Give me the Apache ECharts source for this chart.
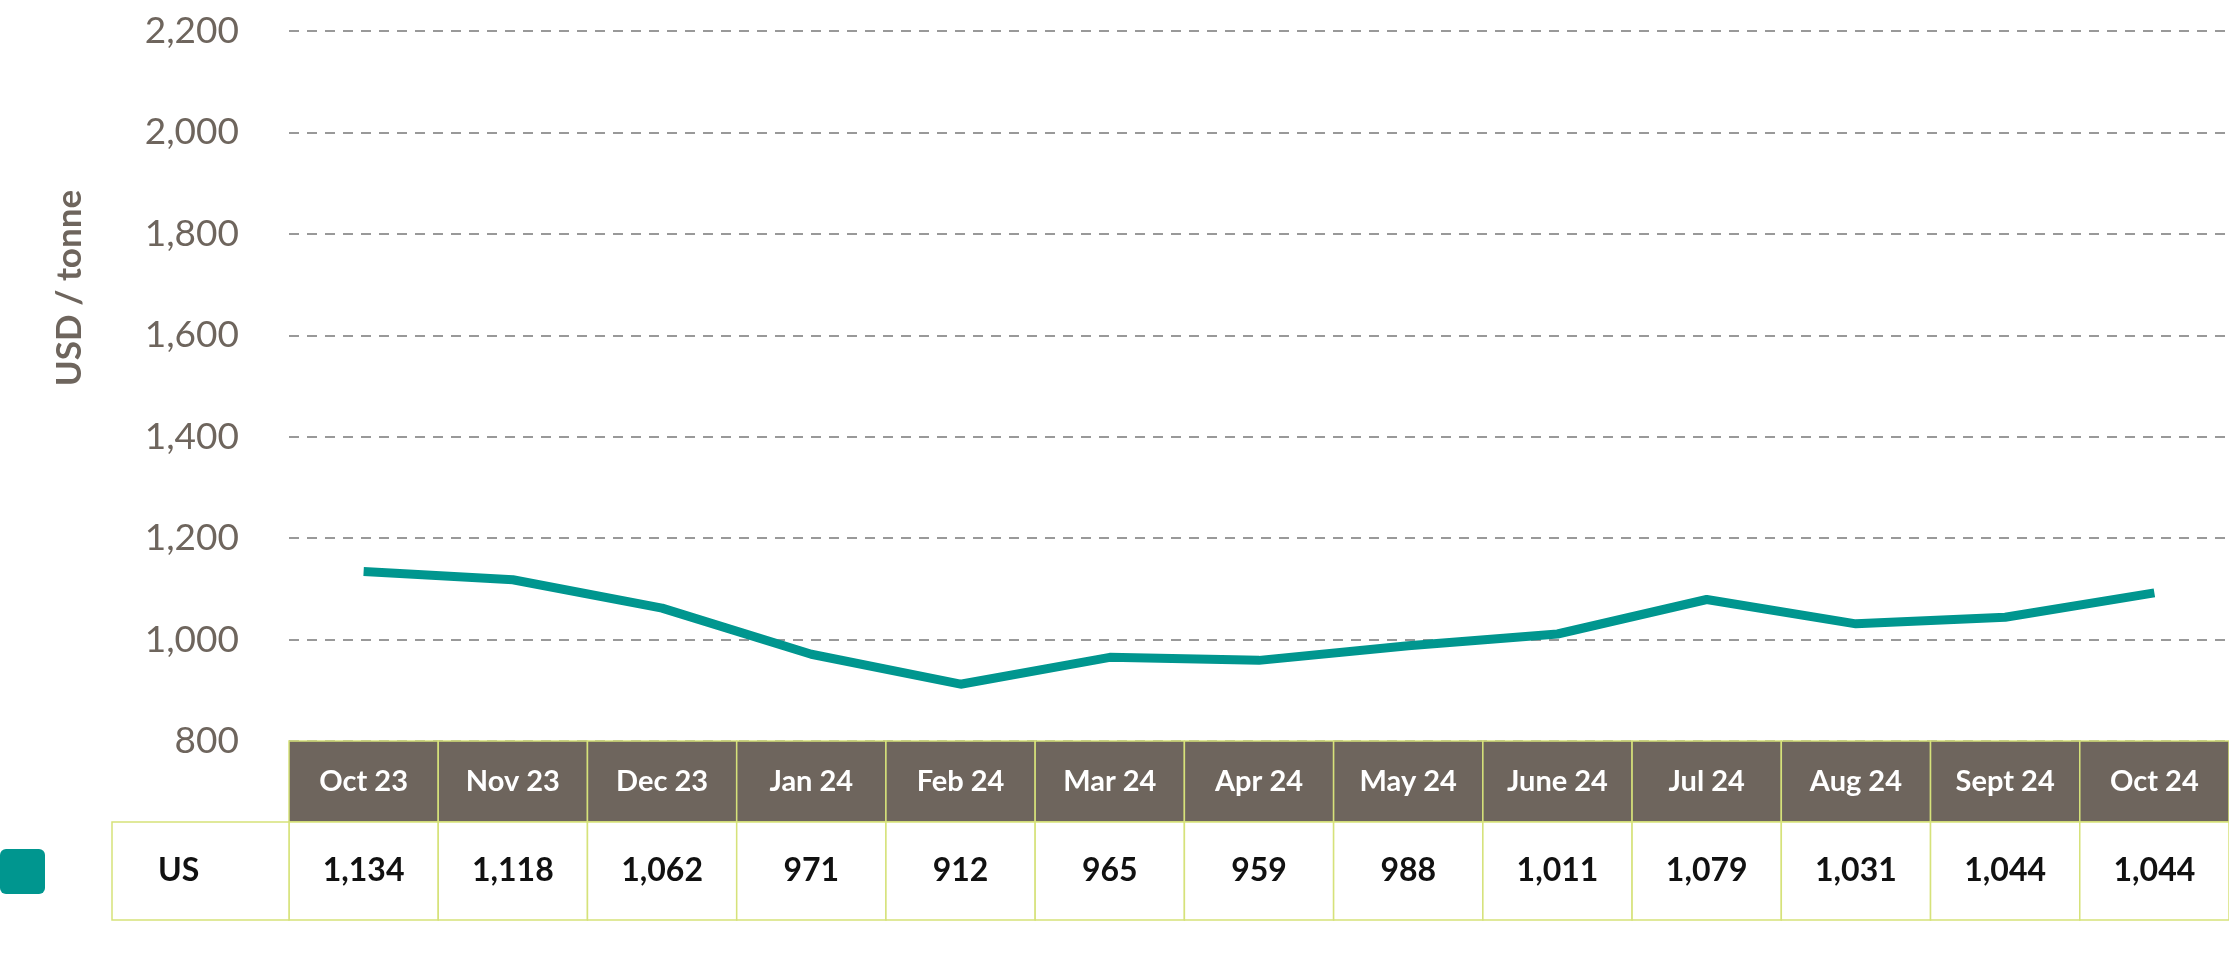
<!DOCTYPE html>
<html>
<head>
<meta charset="utf-8">
<script src="https://cdn.jsdelivr.net/npm/echarts@6/dist/echarts.min.js"></script>
<style>html,body{margin:0;padding:0;background:#fff}#chart{width:2229px;height:972px}</style>
</head>
<body>
<div id="chart"></div>
<script>
var months = ['Oct 23','Nov 23','Dec 23','Jan 24','Feb 24','Mar 24','Apr 24','May 24','June 24','Jul 24','Aug 24','Sept 24','Oct 24'];
// line as plotted
var usLine = [1134, 1118, 1062, 971, 912, 965, 959, 988, 1011, 1079, 1031, 1044, 1092];
// values printed in the table
var usTable = ['1,134','1,118','1,062','971','912','965','959','988','1,011','1,079','1,031','1,044','1,044'];
var yTicks = [800, 1000, 1200, 1400, 1600, 1800, 2000, 2200];

var brown = '#6e655d', teal = '#00968f', cellBorder = '#d6e27a';
var font = 'Lato, "Open Sans", sans-serif';

var chartDom = document.getElementById('chart');
var myChart = echarts.init(chartDom);
var option = {
  animation: false,
  grid: { left: 289, right: 0, top: 31, bottom: 231 },
  xAxis: {
    type: 'category', data: months, boundaryGap: true,
    axisLine: { show: false }, axisTick: { show: false }, axisLabel: { show: false }
  },
  yAxis: {
    type: 'value', min: yTicks[0], max: yTicks[yTicks.length - 1], interval: 200,
    axisLine: { show: false }, axisTick: { show: false },
    axisLabel: {
      color: brown, fontSize: 37, fontFamily: font, margin: 50,
      formatter: function (v) { return v.toLocaleString('en-US'); }
    },
    splitLine: { lineStyle: { color: '#999', type: [10, 8], width: 2 } }
  },
  series: [{
    type: 'line', data: usLine, symbol: 'none',
    lineStyle: { color: teal, width: 9 }
  }]
};
myChart.setOption(option);

// table under the plot, built from axis positions
var top0 = myChart.convertToPixel({ yAxisIndex: 0 }, yTicks[0]);
var cw = myChart.convertToPixel({ xAxisIndex: 0 }, months[1]) - myChart.convertToPixel({ xAxisIndex: 0 }, months[0]);
var headH = 81, rowH = 98;
var g = [];
months.forEach(function (m, i) {
  var cx = myChart.convertToPixel({ xAxisIndex: 0 }, m);
  var x = cx - cw / 2;
  g.push({ type: 'rect', shape: { x: x, y: top0, width: cw, height: headH },
    style: { fill: brown, stroke: cellBorder, lineWidth: 1.5 } });
  g.push({ type: 'text', x: cx, y: top0 + headH / 2,
    style: { text: m, fill: '#fff', font: 'bold 29px ' + font, align: 'center', verticalAlign: 'middle' } });
  g.push({ type: 'rect', shape: { x: x, y: top0 + headH, width: cw, height: rowH },
    style: { fill: '#fff', stroke: cellBorder, lineWidth: 1.5 } });
  g.push({ type: 'text', x: cx, y: top0 + headH + rowH / 2,
    style: { text: usTable[i], fill: '#111', font: 'bold 32px ' + font, align: 'center', verticalAlign: 'middle' } });
});
var leftX = 112, firstX = myChart.convertToPixel({ xAxisIndex: 0 }, months[0]) - cw / 2;
g.push({ type: 'rect', shape: { x: leftX, y: top0 + headH, width: firstX - leftX, height: rowH },
  style: { fill: '#fff', stroke: cellBorder, lineWidth: 1.5 } });
g.push({ type: 'text', x: 158, y: top0 + headH + rowH / 2,
  style: { text: 'US', fill: '#111', font: 'bold 32px ' + font, verticalAlign: 'middle' } });
g.push({ type: 'rect', shape: { x: 0, y: top0 + headH + rowH / 2 - 22, width: 45, height: 45, r: 6 },
  style: { fill: teal } });
g.push({ type: 'text', x: 70, y: 288, rotation: Math.PI / 2,
  style: { text: 'USD / tonne', fill: brown, font: 'bold 35px ' + font, align: 'center', verticalAlign: 'middle' } });
myChart.setOption({ graphic: g });
</script>
</body>
</html>
